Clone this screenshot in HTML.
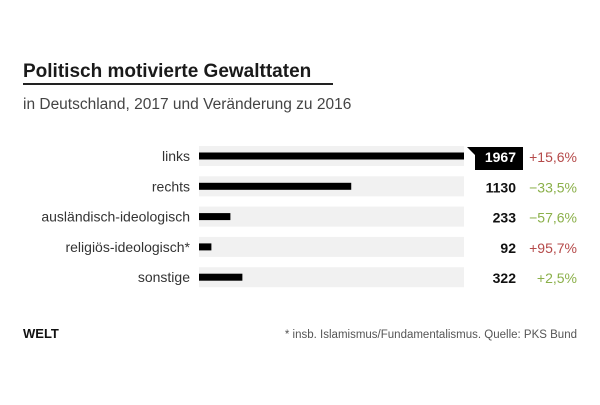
<!DOCTYPE html>
<html><head><meta charset="utf-8"><style>
body{margin:0;background:#fff;width:600px;height:400px;overflow:hidden;font-family:"Liberation Sans",sans-serif}
</style></head><body>
<svg width="600" height="400" xmlns="http://www.w3.org/2000/svg">
<text x="23" y="77" font-size="19" font-weight="bold" fill="#1a1a1a">Politisch motivierte Gewalttaten</text>
<rect x="23" y="83" width="310" height="2" fill="#222"/>
<text x="23" y="109" font-size="15.5" fill="#444">in Deutschland, 2017 und Veränderung zu 2016</text>
<g id="bars"></g>
<text x="23" y="338" font-size="13" font-weight="bold" fill="#111">WELT</text>
<text x="577" y="338" font-size="11.5" text-anchor="end" fill="#555">* insb. Islamismus/Fundamentalismus. Quelle: PKS Bund</text>
</svg>
<script>
const categories=["links","rechts","ausländisch-ideologisch","religiös-ideologisch*","sonstige"];
const values=[1967,1130,233,92,322];
const changes=["+15,6%","−33,5%","−57,6%","+95,7%","+2,5%"];
const changeColors=["#b54a4a","#8bb04a","#8bb04a","#b54a4a","#8bb04a"];
const NS="http://www.w3.org/2000/svg";
const g=document.getElementById('bars');
const x0=199,x1=464,maxV=Math.max(...values);
const xs=v=>x0+(x1-x0)*v/maxV;
const yc=i=>156+i*30.3;
function mk(t,a,txt){const e=document.createElementNS(NS,t);for(const k in a)e.setAttribute(k,a[k]);if(txt!=null)e.textContent=txt;g.appendChild(e);return e;}
categories.forEach((c,i)=>{
  const y=yc(i);
  let e=mk('rect',{x:x0,y:y-10,width:x1-x0,height:20,fill:'#f1f1f1'});
  
  
  e=mk('rect',{x:x0,y:y-3.5,width:xs(values[i])-x0,height:7,fill:'#000'});
  
  
  e=mk('text',{x:190,y:y+5,'font-size':14,'text-anchor':'end',fill:'#333'},c);
  
  
  if(i===0){
    e=mk('polygon',{points:`${x1+3},${y-9} 523,${y-9} 523,${y+14} 475,${y+14} 475,${y-1}`,fill:'#000'});
    
    
  }
  e=mk('text',{x:516,y:y+6,'font-size':14,'font-weight':'bold','text-anchor':'end',fill:i===0?'#fff':'#111'},String(values[i]));
  
  
  e=mk('text',{x:577,y:y+6,'font-size':14,'text-anchor':'end',fill:changeColors[i]},changes[i]);
  
  
});
</script>
</body></html>
